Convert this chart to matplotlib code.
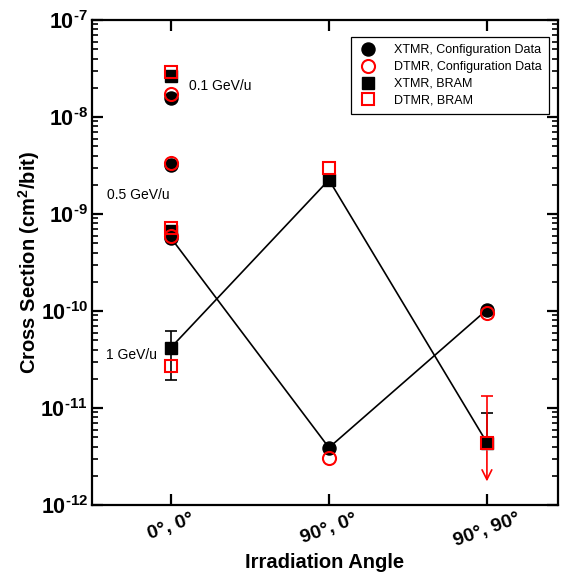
import math
import matplotlib
matplotlib.use("Agg")
import matplotlib.pyplot as plt
from matplotlib.lines import Line2D
from matplotlib.ticker import FixedLocator, FuncFormatter, NullFormatter

plt.rcParams["font.family"] = ["Liberation Sans", "DejaVu Sans"]
plt.rcParams["mathtext.fontset"] = "custom"
plt.rcParams["mathtext.rm"] = "Liberation Sans:bold"
plt.rcParams["mathtext.bf"] = "Liberation Sans:bold"
plt.rcParams["mathtext.default"] = "bf"

# ---- data -------------------------------------------------------------
angle_labels = ["0°, 0°", "90°, 0°", "90°, 90°"]
angle_pos = [1, 2, 3]
energy_labels = ["0.1 GeV/u", "0.5 GeV/u", "1 GeV/u"]

# normal incidence (0°, 0°) for the three beam energies
xtmr_cfg_normal = [1.57e-8, 3.2e-9, 5.66e-10]
dtmr_cfg_normal = [1.73e-8, 3.36e-9, 5.9e-10]
xtmr_bram_normal = [2.65e-8, 6.7e-10, 4.2e-11]
dtmr_bram_normal = [2.9e-8, 7.2e-10, 2.74e-11]

# 1 GeV/u at the tilted orientations (90°, 0°) and (90°, 90°)
xtmr_cfg_tilt = [3.9e-12, 1.03e-10]
dtmr_cfg_tilt = [3.05e-12, 9.6e-11]
xtmr_bram_tilt = [2.25e-9, 4.4e-12]
dtmr_bram_tilt = [2.95e-9, 4.4e-12]

# uncertainties
xtmr_bram_1gev_range = [1.95e-11, 6.2e-11]
xtmr_bram_9090_upper = 8.9e-12
dtmr_bram_9090_upper = 1.33e-11
dtmr_bram_9090_limit = 1.75e-12

# decades shown on the y axis
decade_exps = [-12, -11, -10, -9, -8, -7]

# ---- figure -----------------------------------------------------------
W, H = 566, 577
fig = plt.figure(figsize=(W / 100, H / 100), dpi=100)
ax = fig.add_axes([92 / W, 1 - 505 / H, (558 - 92) / W, (505 - 20) / H])
ax.set_yscale("log")
ax.set_ylim(10.0 ** decade_exps[0], 10.0 ** decade_exps[-1])
ax.set_xlim(0.5, 3.45)

RED = "#ff0000"
ms_c = 9.4
ms_s = 8.6

tilt_pos = angle_pos[1:]

# connecting lines (1 GeV/u XTMR series)
ax.plot([angle_pos[0]] + tilt_pos, [xtmr_cfg_normal[2]] + xtmr_cfg_tilt,
        color="black", lw=1.2, zorder=2)
ax.plot([angle_pos[0]] + tilt_pos, [xtmr_bram_normal[2]] + xtmr_bram_tilt,
        color="black", lw=1.2, zorder=2)

# error bars
ax.errorbar([angle_pos[0]], [xtmr_bram_normal[2]],
            yerr=[[xtmr_bram_normal[2] - xtmr_bram_1gev_range[0]],
                  [xtmr_bram_1gev_range[1] - xtmr_bram_normal[2]]],
            fmt="none", ecolor="black", elinewidth=1.2, capsize=4, capthick=1.2, zorder=3)
ax.errorbar([angle_pos[2]], [xtmr_bram_tilt[1]],
            yerr=[[0], [xtmr_bram_9090_upper - xtmr_bram_tilt[1]]],
            fmt="none", ecolor="black", elinewidth=1.2, capsize=4.2, capthick=1.2, zorder=3)
ax.errorbar([angle_pos[2]], [dtmr_bram_tilt[1]],
            yerr=[[0], [dtmr_bram_9090_upper - dtmr_bram_tilt[1]]],
            fmt="none", ecolor=RED, elinewidth=1.2, capsize=4, capthick=1.2, zorder=4)
ax.annotate("", xy=(angle_pos[2], dtmr_bram_9090_limit),
            xytext=(angle_pos[2], dtmr_bram_tilt[1]),
            arrowprops=dict(arrowstyle="->,head_length=0.5,head_width=0.25",
                            color=RED, lw=1.2,
                            mutation_scale=14, shrinkA=6, shrinkB=0),
            zorder=4)

# markers at normal incidence
x0 = [angle_pos[0]] * 3
ax.plot(x0, xtmr_cfg_normal, "o", ms=ms_c, color="black", zorder=5)
ax.plot(x0, dtmr_cfg_normal, "o", ms=ms_c, mfc="none", mec=RED, mew=1.5, zorder=6)
ax.plot(x0, xtmr_bram_normal, "s", ms=ms_s, color="black", zorder=5)
ax.plot(x0, dtmr_bram_normal, "s", ms=ms_s, mfc="none", mec=RED, mew=1.5, zorder=6)

# markers at tilted orientations
ax.plot(tilt_pos, xtmr_cfg_tilt, "o", ms=ms_c, color="black", zorder=5)
ax.plot(tilt_pos, dtmr_cfg_tilt, "o", ms=ms_c, mfc="none", mec=RED, mew=1.5, zorder=6)
ax.plot(tilt_pos, xtmr_bram_tilt, "s", ms=ms_s, color="black", zorder=5)
ax.plot(tilt_pos, dtmr_bram_tilt, "s", ms=ms_s, mfc="none", mec=RED, mew=1.5, zorder=6)

# beam energy annotations
energy_text_pos = [(1.114, 2.09e-8), (0.595, 1.57e-9), (0.589, 3.5e-11)]
for (tx, ty), lab in zip(energy_text_pos, energy_labels):
    ax.text(tx, ty, lab, fontsize=10, ha="left", va="center")

# ---- axes styling -----------------------------------------------------
for sp in ax.spines.values():
    sp.set_linewidth(1.6)

ax.xaxis.set_major_locator(FixedLocator(angle_pos))
ax.set_xticklabels(angle_labels, rotation=20, ha="center",
                   fontsize=14, fontweight="bold")

major_y = [10.0 ** e for e in decade_exps]
minor_y = [m * 10.0 ** e for e in decade_exps[:-1] for m in range(2, 10)]
ax.yaxis.set_major_locator(FixedLocator(major_y))
ax.yaxis.set_minor_locator(FixedLocator(minor_y))
ax.yaxis.set_minor_formatter(NullFormatter())
ax.yaxis.set_major_formatter(FuncFormatter(
    lambda v, p: r"$\mathbf{10^{\text{-}%d}}$" % abs(round(math.log10(v)))))

ax.tick_params(which="both", direction="in", top=True, right=True, width=1.6)
ax.tick_params(which="major", length=8)
ax.tick_params(which="minor", length=4.5, width=1.2)
ax.tick_params(axis="y", which="major", labelsize=15.5, pad=3)
ax.tick_params(axis="x", which="major", pad=4)

ax.set_xlabel("Irradiation Angle", fontsize=14.5, fontweight="bold", labelpad=2)
ax.set_ylabel(r"Cross Section (cm$^{\mathbf{2}}$/bit)", fontsize=14.5,
              fontweight="bold", labelpad=-1)

# ---- legend -----------------------------------------------------------
handles = [
    Line2D([], [], ls="none", marker="o", ms=ms_c, color="black"),
    Line2D([], [], ls="none", marker="o", ms=ms_c, mfc="none", mec=RED, mew=1.5),
    Line2D([], [], ls="none", marker="s", ms=ms_s, color="black"),
    Line2D([], [], ls="none", marker="s", ms=ms_s, mfc="none", mec=RED, mew=1.5),
]
labels = ["XTMR, Configuration Data", "DTMR, Configuration Data",
          "XTMR, BRAM", "DTMR, BRAM"]
leg = ax.legend(handles, labels, loc="upper right",
                bbox_to_anchor=(549 / W, 1 - 37 / H), bbox_transform=fig.transFigure,
                fontsize=9, frameon=True, fancybox=False, framealpha=1,
                edgecolor="black", borderpad=0.6, labelspacing=0.38,
                handlelength=1.6, handletextpad=1.25, borderaxespad=0)
leg.get_frame().set_linewidth(0.9)

fig.savefig("out.png", dpi=100)
